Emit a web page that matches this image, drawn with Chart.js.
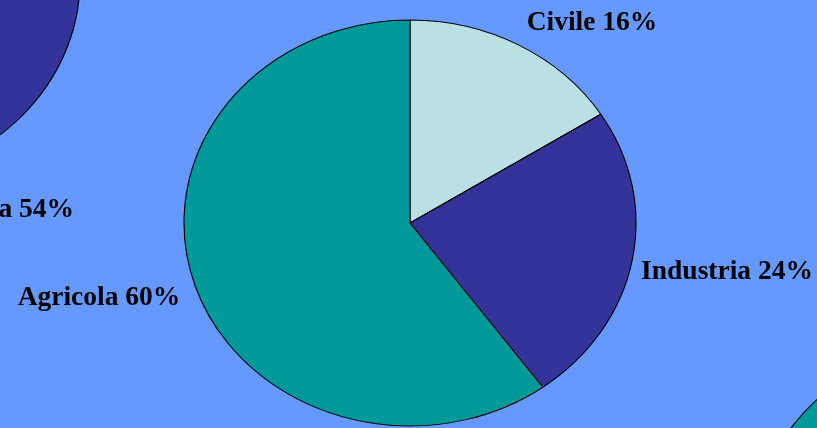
<!DOCTYPE html>
<html>
<head>
<meta charset="utf-8">
<script src="https://cdn.jsdelivr.net/npm/chart.js@4/dist/chart.umd.min.js"></script>
<style>
  html, body { margin: 0; padding: 0; background: #6699FF; }
  #stage { position: relative; width: 817px; height: 428px; overflow: hidden; background: #6699FF; }
  #stage canvas { position: absolute; }
</style>
</head>
<body>
<div id="stage">
  <canvas id="pieLeft" width="480" height="480" style="left:-380px;top:-240px"></canvas>
  <canvas id="pieMain" width="817" height="428" style="left:0;top:0"></canvas>
  <canvas id="pieRight" width="480" height="480" style="left:740px;top:330px"></canvas>
</div>
<script>
// Water use by sector, in percent
const categories = ['Civile', 'Industria', 'Agricola'];
const mainShares = [16, 24, 60];
const leftShares = [18, 54, 28];
const rightShares = [14, 30, 56];
const sliceColors = ['#BBE0E3', '#333399', '#009999'];

const PIE_RADIUS = 203;
const STRETCH_X = 226 / 203;

// Pies are drawn as ellipses: widen the arcs horizontally around the centre
const stretchPlugin = {
  id: 'stretch',
  beforeDatasetsDraw(chart, args, opts) {
    const arc = chart.getDatasetMeta(0).data[0];
    const ctx = chart.ctx;
    ctx.save();
    ctx.translate(arc.x, arc.y);
    ctx.scale(opts.sx, 1);
    ctx.translate(-arc.x, -arc.y);
  },
  afterDatasetsDraw(chart) {
    chart.ctx.restore();
  }
};

// "Name NN%" labels placed around the pie
const sliceLabelPlugin = {
  id: 'sliceLabels',
  afterDraw(chart, args, opts) {
    const anchors = opts.anchors || [];
    const arc = chart.getDatasetMeta(0).data[0];
    const values = chart.data.datasets[0].data;
    const ctx = chart.ctx;
    ctx.save();
    ctx.font = 'bold 27.5px "Liberation Serif", "Times New Roman", serif';
    ctx.fillStyle = '#000000';
    ctx.textBaseline = 'alphabetic';
    chart.data.labels.forEach((name, i) => {
      const a = anchors[i];
      if (!a) return;
      ctx.textAlign = a.align || 'center';
      ctx.fillText(name + ' ' + values[i] + '%', arc.x + a.dx, arc.y + a.dy);
    });
    ctx.restore();
  }
};

function makePie(id, shares, padding, anchors) {
  return new Chart(document.getElementById(id), {
    type: 'pie',
    data: {
      labels: categories,
      datasets: [{
        data: shares,
        backgroundColor: sliceColors,
        borderColor: '#000000',
        borderWidth: 1
      }]
    },
    options: {
      responsive: false,
      animation: false,
      radius: PIE_RADIUS,
      layout: { padding: padding },
      plugins: {
        legend: { display: false },
        tooltip: { enabled: false },
        stretch: { sx: STRETCH_X },
        sliceLabels: { anchors: anchors }
      }
    },
    plugins: [stretchPlugin, sliceLabelPlugin]
  });
}

makePie('pieLeft', leftShares, { left: 0, right: 12, top: 0, bottom: 40 },
  [null, { dx: 220, dy: 237, align: 'right' }, null]);

makePie('pieMain', mainShares, { left: 3, right: 0, top: 18, bottom: 0 },
  [{ dx: 182, dy: -193 }, { dx: 317, dy: 56 }, { dx: -311, dy: 82 }]);

makePie('pieRight', rightShares, { left: 0, right: 4, top: 0, bottom: 56 },
  [null, null, null]);
</script>
</body>
</html>
